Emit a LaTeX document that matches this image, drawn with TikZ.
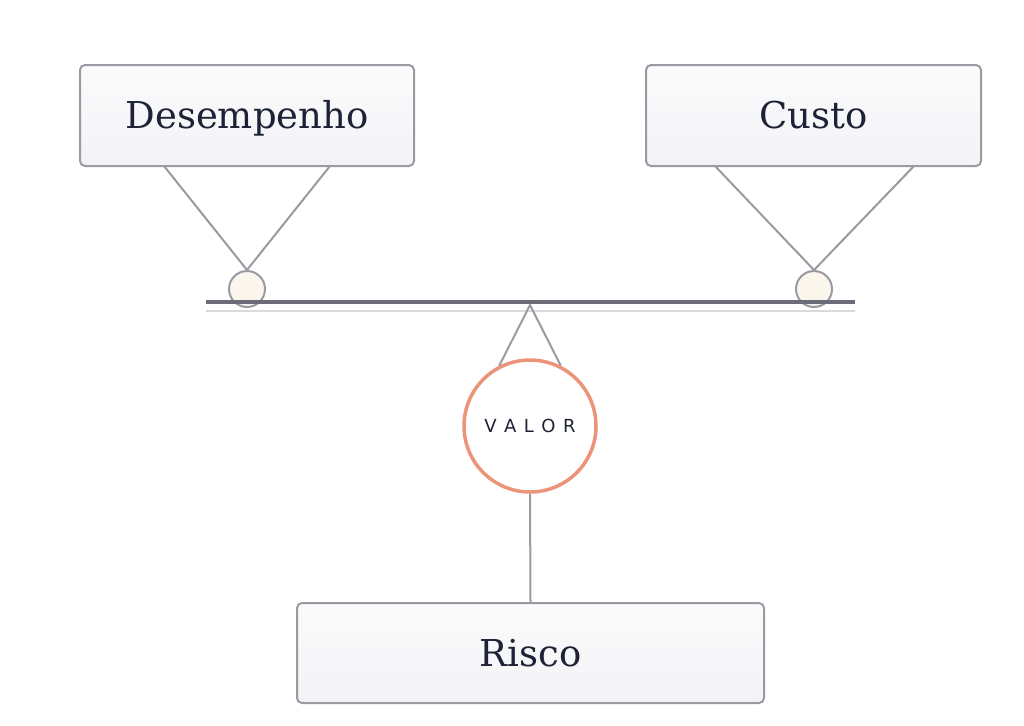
\documentclass[tikz,border=0pt]{standalone}
\usepackage{fontspec}
\setmainfont{DejaVu Serif}
\newfontfamily\valfont{DejaVu Sans}
\definecolor{boxline}{HTML}{9A9AA3}
\definecolor{boxtop}{HTML}{FBFBFC}
\definecolor{boxbot}{HTML}{F3F3F6}
\definecolor{txt}{HTML}{1E2236}
\definecolor{beam}{HTML}{6C6C78}
\definecolor{beamlight}{HTML}{D9D9DE}
\definecolor{pan}{HTML}{FBF6EC}
\definecolor{valor}{HTML}{EC947A}
\tikzset{
  factor/.style={draw=boxline, line width=2pt, rounded corners=5pt, top color=boxtop, bottom color=boxbot, text=txt, font=\fontsize{37}{40}\selectfont, inner sep=0pt, text height=30pt, text depth=4pt},
  string/.style={draw=boxline, line width=2pt},
  panc/.style={circle, draw=boxline, line width=2pt, fill=pan, minimum size=36pt, inner sep=0pt},
  valc/.style={circle, draw=valor, line width=3.5pt, fill=white, minimum size=132pt, inner sep=0pt, text=txt, font=\valfont\fontsize{18}{20}\selectfont}
}
\begin{document}
\begin{tikzpicture}[x=1pt,y=-1pt]
\useasboundingbox (0,0) rectangle (1024,725);
\fill[white] (0,0) rectangle (1024,725);
% factor boxes
\node[factor, minimum width=334pt, minimum height=101pt] (des) at (247,115.5) {Desempenho};
\node[factor, minimum width=335pt, minimum height=101pt] (cus) at (813.5,115.5) {Custo};
\node[factor, minimum width=467pt, minimum height=100pt] (ris) at (530.5,653) {Risco};
% beam
\coordinate (bl) at (206,302);
\coordinate (br) at (855,302);
\coordinate (ll) at (206,311);
\coordinate (lr) at (855,311);
\draw[beamlight, line width=2pt] (ll) -- (lr);
% pans
\node[panc] (pl) at (247,289) {};
\node[panc] (pr) at (814,289) {};
\draw[beam, line width=3.5pt] (bl) -- (br);
% strings
\coordinate (d1) at (164,166);
\coordinate (d2) at (330,166);
\coordinate (c1) at (715,166);
\coordinate (c2) at (914,166);
\draw[string] (d1) -- (pl.north) -- (d2);
\draw[string] (c1) -- (pr.north) -- (c2);
% pivot and valor
\coordinate (apex) at (530,305);
\node[valc] (val) at (530,426) {V\hspace{7.5pt}A\hspace{7.5pt}L\hspace{7.5pt}O\hspace{7.5pt}R};
\draw[string] (val.117) -- (apex) -- (val.63);
\draw[string] (val.south) -- (ris.north);
\end{tikzpicture}
\end{document}
